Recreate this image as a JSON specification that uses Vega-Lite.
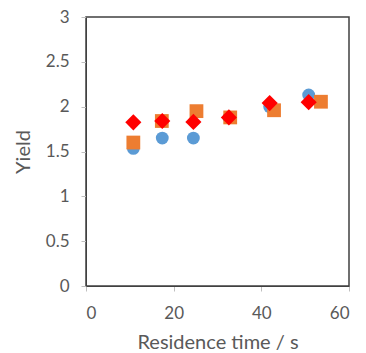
{
  "$schema": "https://vega.github.io/schema/vega-lite/v6.json",
  "width": 263,
  "height": 269,
  "autosize": "none",
  "padding": {"left": 86, "top": 17, "right": 17, "bottom": 67},
  "background": "white",
  "config": {
    "view": {"stroke": "#404040", "strokeWidth": 1.5},
    "font": "Lato",
    "axis": {
      "grid": false,
      "domainColor": "#404040",
      "tickColor": "#BFBFBF",
      "tickSize": 5,
      "labelColor": "#595959",
      "titleColor": "#595959",
      "labelFontSize": 17,
      "titleFontSize": 20,
      "titleFontWeight": "normal",
      "labelFont": "Lato",
      "titleFont": "Lato"
    }
  },
  "data": {
    "values": [
      {"series": "A", "time": 10.8, "yield": 1.535},
      {"series": "A", "time": 17.4, "yield": 1.65},
      {"series": "A", "time": 24.5, "yield": 1.65},
      {"series": "A", "time": 32.6, "yield": 1.88},
      {"series": "A", "time": 41.9, "yield": 2.0},
      {"series": "A", "time": 50.8, "yield": 2.13},
      {"series": "B", "time": 10.8, "yield": 1.6},
      {"series": "B", "time": 17.3, "yield": 1.84},
      {"series": "B", "time": 25.2, "yield": 1.95},
      {"series": "B", "time": 32.9, "yield": 1.88},
      {"series": "B", "time": 42.9, "yield": 1.96},
      {"series": "B", "time": 53.6, "yield": 2.055},
      {"series": "C", "time": 10.8, "yield": 1.825},
      {"series": "C", "time": 17.4, "yield": 1.84},
      {"series": "C", "time": 24.5, "yield": 1.83},
      {"series": "C", "time": 32.6, "yield": 1.88},
      {"series": "C", "time": 41.9, "yield": 2.04},
      {"series": "C", "time": 50.8, "yield": 2.05}
    ]
  },
  "mark": {"type": "point", "filled": true, "opacity": 1},
  "encoding": {
    "x": {
      "field": "time", "type": "quantitative",
      "scale": {"domain": [0, 60], "nice": false, "zero": true},
      "axis": {"values": [0, 20, 40, 60], "title": "Residence time / s", "labelPadding": 14, "titlePadding": 11}
    },
    "y": {
      "field": "yield", "type": "quantitative",
      "scale": {"domain": [0, 3], "nice": false},
      "axis": {"values": [0, 0.5, 1, 1.5, 2, 2.5, 3], "format": "~g", "title": "Yield", "labelPadding": 12, "titlePadding": 12}
    },
    "shape": {
      "field": "series", "type": "nominal",
      "scale": {"domain": ["A", "B", "C"], "range": ["circle", "square", "diamond"]},
      "legend": null
    },
    "color": {
      "field": "series", "type": "nominal",
      "scale": {"domain": ["A", "B", "C"], "range": ["#5B9BD5", "#ED7D31", "#FF0000"]},
      "legend": null
    },
    "size": {
      "field": "series", "type": "nominal",
      "scale": {"type": "ordinal", "domain": ["A", "B", "C"], "range": [165, 190, 260]},
      "legend": null
    },
    "order": {"field": "series", "type": "nominal"}
  }
}
